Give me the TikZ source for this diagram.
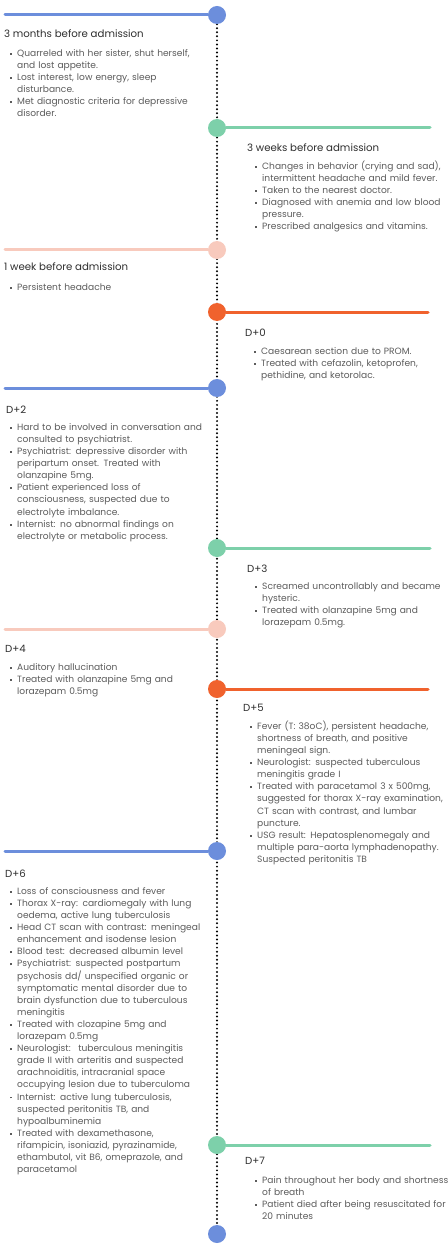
\documentclass[tikz,border=0pt]{standalone}
\usepackage{fontspec}
\setmainfont{Poppins}
\usepackage{enumitem}
\usetikzlibrary{positioning,backgrounds}
\definecolor{tlblue}{HTML}{6C8EDC}
\definecolor{tlgreen}{HTML}{7DD0AA}
\definecolor{tlpink}{HTML}{F8CABD}
\definecolor{tlorange}{HTML}{F0622D}
\definecolor{headgray}{HTML}{2E2E2E}
\definecolor{notegray}{HTML}{5C5C5C}
\setlist[itemize]{label={\raisebox{1.6pt}{\rule{1.9pt}{1.9pt}}},leftmargin=12pt,labelsep=5pt,itemsep=0pt,topsep=0pt,parsep=0pt,partopsep=0pt}
\tikzset{
  evt/.style={circle, minimum size=18pt, inner sep=0pt},
  spine/.style={line width=2.2pt, line cap=round, dash pattern=on 0pt off 4.05pt, black},
  rail/.style={line width=3pt, line cap=round},
  heading/.style={anchor=base west, inner sep=0pt, font=\fontsize{10.2}{12}\selectfont, text=headgray},
  notes/.style={anchor=north west, inner sep=0pt, text width=250pt, align=left, font=\fontsize{9.1}{12.1}\selectfont, text=notegray}
}
\begin{document}
\begin{tikzpicture}[x=1pt,y=-1pt]
  \useasboundingbox (0,0) rectangle (447,1246);
  % events on the time axis
  \foreach \n/\y/\c/\e in {m3/15/tlblue/5, w3/128/tlgreen/430, w1/250/tlpink/5, d0/312/tlorange/428,
      d2/388/tlblue/5, d3/548/tlgreen/430, d4/629/tlpink/5, d5/689/tlorange/428,
      d6/851/tlblue/5, d7/1145/tlgreen/430} {
    \node[evt, fill=\c] (\n) at (217,\y) {};
    \coordinate (\n-end) at (\e,\y);
    \begin{scope}[on background layer]
      \draw[rail, \c] (\n) -- (\n-end);
    \end{scope}
  }
  \node[evt, fill=tlblue] (fin) at (217,1234) {};
  \begin{scope}[on background layer]
    \draw[spine] (m3) -- (fin);
  \end{scope}

  % left and right texts
  \node[heading] (m3-h) at (4,38) {3 months before admission};
  \node[notes] (m3-t) at (5,44) {\begin{itemize}
    \item Quarreled with her sister, shut herself,\\ and lost appetite.
    \item Lost interest, low energy, sleep\\ disturbance.
    \item Met diagnostic criteria for depressive\\ disorder.
  \end{itemize}};

  \node[heading] (w3-h) at (247,152) {3 weeks before admission};
  \node[notes] (w3-t) at (250,157) {\begin{itemize}
    \item Changes in behavior (crying and sad),\\ intermittent headache and mild fever.
    \item Taken to the nearest doctor.
    \item Diagnosed with anemia and low blood\\ pressure.
    \item Prescribed analgesics and vitamins.
  \end{itemize}};

  \node[heading] (w1-h) at (4,271) {1 week before admission};
  \node[notes] (w1-t) at (5,278) {\begin{itemize}
    \item Persistent headache
  \end{itemize}};

  \node[heading] (d0-h) at (245,336) {D+0};
  \node[notes] (d0-t) at (249,342) {\begin{itemize}
    \item Caesarean section due to PROM.
    \item Treated with cefazolin, ketoprofen,\\ pethidine, and ketorolac.
  \end{itemize}};

  \node[heading] (d2-h) at (6,413) {D+2};
  \node[notes] (d2-t) at (5,418) {\begin{itemize}
    \item Hard to be involved in conversation and\\ consulted to psychiatrist.
    \item Psychiatrist: depressive disorder with\\ peripartum onset. Treated with\\ olanzapine 5mg.
    \item Patient experienced loss of\\ consciousness, suspected due to\\ electrolyte imbalance.
    \item Internist: no abnormal findings on\\ electrolyte or metabolic process.
  \end{itemize}};

  \node[heading] (d3-h) at (247,572) {D+3};
  \node[notes] (d3-t) at (250,577) {\begin{itemize}
    \item Screamed uncontrollably and became\\ hysteric.
    \item Treated with olanzapine 5mg and\\ lorazepam 0.5mg.
  \end{itemize}};

  \node[heading] (d4-h) at (5,652) {D+4};
  \node[notes] (d4-t) at (5,658) {\begin{itemize}
    \item Auditory hallucination
    \item Treated with olanzapine 5mg and\\ lorazepam 0.5mg
  \end{itemize}};

  \node[heading] (d5-h) at (243,711) {D+5};
  \node[notes] (d5-t) at (245,717) {\begin{itemize}
    \item Fever (T: 38oC), persistent headache,\\ shortness of breath, and positive\\ meningeal sign.
    \item Neurologist: suspected tuberculous\\ meningitis grade I
    \item Treated with paracetamol 3 x 500mg,\\ suggested for thorax X-ray examination,\\ CT scan with contrast, and lumbar\\ puncture.
    \item USG result: Hepatosplenomegaly and\\ multiple para-aorta lymphadenopathy.\\ Suspected peritonitis TB
  \end{itemize}};

  \node[heading] (d6-h) at (5,877) {D+6};
  \node[notes] (d6-t) at (5,882) {\begin{itemize}
    \item Loss of consciousness and fever
    \item Thorax X-ray: cardiomegaly with lung\\ oedema, active lung tuberculosis
    \item Head CT scan with contrast: meningeal\\ enhancement and isodense lesion
    \item Blood test: decreased albumin level
    \item Psychiatrist: suspected postpartum\\ psychosis dd/ unspecified organic or\\ symptomatic mental disorder due to\\ brain dysfunction due to tuberculous\\ meningitis
    \item Treated with clozapine 5mg and\\ lorazepam 0.5mg
    \item Neurologist:~ tuberculous meningitis\\ grade II with arteritis and suspected\\ arachnoiditis, intracranial space\\ occupying lesion due to tuberculoma
    \item Internist: active lung tuberculosis,\\ suspected peritonitis TB, and\\ hypoalbuminemia
    \item Treated with dexamethasone,\\ rifampicin, isoniazid, pyrazinamide,\\ ethambutol, vit B6, omeprazole, and\\ paracetamol
  \end{itemize}};

  \node[heading] (d7-h) at (245,1164) {D+7};
  \node[notes] (d7-t) at (250,1171) {\begin{itemize}
    \item Pain throughout her body and shortness\\ of breath
    \item Patient died after being resuscitated for\\ 20 minutes
  \end{itemize}};
\end{tikzpicture}
\end{document}
